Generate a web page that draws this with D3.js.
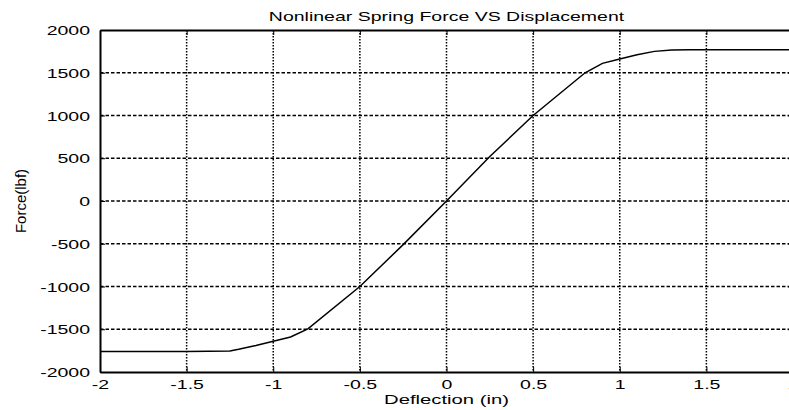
<!DOCTYPE html>
<html>
<head>
<meta charset="utf-8">
<script src="https://cdn.jsdelivr.net/npm/d3@7"></script>
<style>
  body { margin: 0; background: #fff; }
  svg text { font-family: "Liberation Sans", Arial, sans-serif; fill: #000; }
</style>
</head>
<body>
<div id="canvas"></div>
<script>
// deflection (in) and force (lbf)
const deflection = [-2, -1.5, -1.25, -1.2, -1.1, -1.0, -0.9, -0.8, -0.5, -0.25, 0, 0.25, 0.5, 0.8, 0.9, 1.0, 1.1, 1.2, 1.3, 1.4, 1.5, 2];
const force = [-1760, -1760, -1755, -1735, -1690, -1640, -1590, -1495, -1000, -510, 0, 520, 1000, 1500, 1610, 1660, 1710, 1750, 1765, 1770, 1770, 1770];
const xTicks = [-2, -1.5, -1, -0.5, 0, 0.5, 1, 1.5, 2];
const yTicks = [-2000, -1500, -1000, -500, 0, 500, 1000, 1500, 2000];

const w = 789;
const h = 410;
const margin = { top: 30, bottom: 38, left: 100, right: -4 };
const stretch = 1.5; // text in the scan is wide

const width = w - (margin.left + margin.right);
const height = h - (margin.top + margin.bottom);

let svg = d3.select("#canvas")
  .append("svg")
  .attr("width", w)
  .attr("height", h);

let chart = svg.append("g")
  .attr("transform", "translate(" + margin.left + "," + margin.top + ")");

let x = d3.scaleLinear().domain([-2, 2]).range([0, width]);
let y = d3.scaleLinear().domain([-2000, 2000]).range([height, 0]);

// grid
chart.append("g").selectAll("line")
  .data(xTicks.slice(1, -1))
  .enter().append("line")
    .attr("x1", d => x(d)).attr("x2", d => x(d))
    .attr("y1", 0).attr("y2", height)
    .attr("stroke", "#000")
    .attr("stroke-width", 1.5)
    .attr("stroke-dasharray", "1.5,1.5");

chart.append("g").selectAll("line")
  .data(yTicks.slice(1, -1))
  .enter().append("line")
    .attr("x1", 0).attr("x2", width)
    .attr("y1", d => y(d)).attr("y2", d => y(d))
    .attr("stroke", "#000")
    .attr("stroke-width", 1.5)
    .attr("stroke-dasharray", "3.5,2");

// axes, ticks inside like matlab
function styleAxis(g) {
  g.select(".domain").attr("stroke-width", 2);
  g.selectAll(".tick line").attr("stroke-width", 1);
}
const plain = d => String(d); // hyphen minus, not the unicode one

let xAxis = chart.append("g")
  .attr("transform", "translate(0," + height + ")")
  .call(d3.axisBottom(x).tickValues(xTicks).tickSize(-5).tickSizeOuter(0).tickFormat(plain))
  .call(styleAxis);
xAxis.selectAll("text")
  .attr("y", 0).attr("dy", 0)
  .attr("transform", "translate(0,17) scale(" + stretch + ",1)")
  .style("font-size", "13px");

let yAxis = chart.append("g")
  .call(d3.axisLeft(y).tickValues(yTicks).tickSize(-5).tickSizeOuter(0).tickFormat(plain))
  .call(styleAxis);
yAxis.selectAll("text")
  .attr("x", 0).attr("dy", "0.36em")
  .attr("transform", "translate(-10,0) scale(" + stretch + ",1)")
  .style("font-size", "13px");

chart.append("g")
  .call(d3.axisTop(x).tickValues(xTicks).tickSize(-5).tickSizeOuter(0).tickFormat(""))
  .call(styleAxis);

chart.append("g")
  .attr("transform", "translate(" + width + ",0)")
  .call(d3.axisRight(y).tickValues(yTicks).tickSize(-5).tickSizeOuter(0).tickFormat(""))
  .call(styleAxis);

// curve
let line = d3.line()
  .x((d, i) => x(deflection[i]))
  .y(d => y(d));

chart.append("path")
  .datum(force)
  .attr("fill", "none")
  .attr("stroke", "#000")
  .attr("stroke-width", 1.5)
  .attr("d", line);

// titles
svg.append("text")
  .attr("text-anchor", "middle")
  .attr("transform", "translate(" + (margin.left + width / 2) + ",21) scale(" + stretch + ",1)")
  .style("font-size", "13px")
  .text("Nonlinear Spring Force VS Displacement");

svg.append("text")
  .attr("text-anchor", "middle")
  .attr("transform", "translate(" + (margin.left + width / 2) + ",404) scale(" + stretch + ",1)")
  .style("font-size", "13.5px")
  .text("Deflection (in)");

svg.append("text")
  .attr("text-anchor", "middle")
  .attr("transform", "translate(26," + (margin.top + height / 2) + ") rotate(-90)")
  .style("font-family", "'Liberation Sans Narrow', 'Liberation Sans', sans-serif")
  .style("font-size", "15px")
  .text("Force(lbf)");
</script>
</body>
</html>
